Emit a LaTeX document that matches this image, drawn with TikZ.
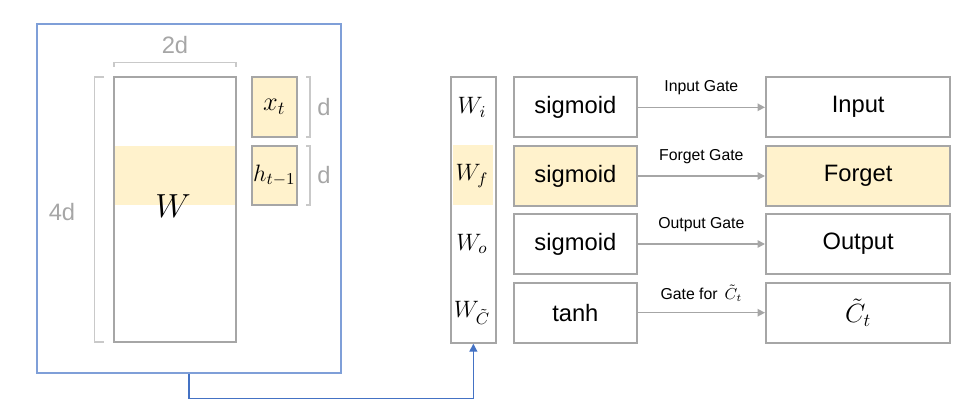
\documentclass[tikz,border=0pt]{standalone}
\usepackage{fix-cm}
\usepackage[no-math]{fontspec}
\setmainfont{Liberation Sans}
\usepackage{tikz}
\usetikzlibrary{arrows.meta, calc}

\definecolor{boxgray}{HTML}{A6A6A6}
\definecolor{bracegray}{HTML}{C9C9C9}
\definecolor{highlight}{HTML}{FFF2CC}
\definecolor{frameblue}{HTML}{7F9FD8}
\definecolor{linkblue}{HTML}{4472C4}

\tikzset{
    cell/.style = {draw = boxgray, line width = 0.04cm, inner sep = 0pt},
    rowbox/.style = {cell, minimum height = 1.200 cm, font = \fontsize{13.5}{16}\selectfont},
    sigbox/.style = {rowbox, minimum width = 2.454 cm},
    resbox/.style = {rowbox, minimum width = 3.686 cm},
    brace/.style = {draw = bracegray, line width = 0.025cm},
    sizelabel/.style = {text = boxgray, inner sep = 0pt, font = \fontsize{13.5}{16}\selectfont},
    mathlabel/.style = {inner sep = 0pt, font = \fontsize{13.5}{16}\selectfont},
    flow/.style = {draw = boxgray, line width = 0.03cm, -{Triangle[width = 0.150cm, length = 0.150cm]}},
    gatelabel/.style = {midway, yshift = +0.390 cm, inner sep = 0pt, font = \fontsize{9}{11}\selectfont},
    link/.style = {draw = linkblue, line width = 0.025cm, -{Triangle[width = 0.160cm, length = 0.160cm]}}
}

\begin{document}
\begin{tikzpicture}
    \useasboundingbox (+0.000, +0.000) rectangle (+19.540, +8.340);

    % === Left part: the stacked weight matrix ===
    % Outer frame
    \node[draw = frameblue, line width = 0.03cm, minimum width = 6.080 cm,
    minimum height = 6.980 cm] (frame) at (+3.780, +4.370) {};

    % W with its highlighted band
    \fill[highlight] (+2.300, +5.420) rectangle (+4.700, +4.240);
    \node[cell, minimum width = 2.440 cm, minimum height = 5.300 cm] (wbig) at (+3.500, +4.150) {};
    \node[inner sep = 0pt, font = \fontsize{19}{22}\selectfont] (wname) at (+3.460, +4.220) {$W$};

    % Inputs x_t and h_{t-1}
    \node[cell, fill = highlight, minimum width = 0.906 cm, minimum height = 1.200 cm,
    font = \fontsize{15}{18}\selectfont] (xin) at (+5.487, +6.200) {$x_t$};
    \node[cell, fill = highlight, mathlabel, minimum width = 0.906 cm,
    minimum height = 1.180 cm] (hin) at (+5.487, +4.830) {$h_{t-1}$};

    % Size brackets
    \draw[brace] (+2.280, +7.000) -- (+2.280, +7.086) -- (+4.720, +7.086) -- (+4.720, +7.000);
    \node[sizelabel] (wdim) at (+3.500, +7.440) {2d};
    \draw[brace] (+2.080, +6.800) -- (+1.886, +6.800) -- (+1.886, +1.500) -- (+2.080, +1.500);
    \node[sizelabel] (hdim) at (+1.240, +4.100) {4d};
    \draw[brace] (+6.120, +6.800) -- (+6.200, +6.800) -- (+6.200, +5.600) -- (+6.120, +5.600);
    \node[sizelabel] (xdim) at (+6.480, +6.200) {d};
    \draw[brace] (+6.120, +5.420) -- (+6.200, +5.420) -- (+6.200, +4.240) -- (+6.120, +4.240);
    \node[sizelabel] (hdimb) at (+6.480, +4.840) {d};

    % === Right part: the four gates ===
    % Split weight column
    \fill[highlight] (+9.060, +5.440) rectangle (+9.860, +4.240);
    \node[cell, minimum width = 0.906 cm, minimum height = 5.320 cm] (wcol) at (+9.467, +4.146) {};
    \node[mathlabel] (wi) at (+9.440, +6.194) {$W_i$};
    \node[mathlabel] (wf) at (+9.440, +4.820) {$W_f$};
    \node[mathlabel] (wo) at (+9.440, +3.460) {$W_o$};
    \node[mathlabel] (wc) at (+9.440, +2.086) {$W_{\tilde{C}}$};

    % Activations
    \node[sigbox] (sig1) at (+11.507, +6.194) {sigmoid};
    \node[sigbox, fill = highlight] (sig2) at (+11.507, +4.820) {sigmoid};
    \node[sigbox] (sig3) at (+11.507, +3.460) {sigmoid};
    \node[sigbox] (sig4) at (+11.507, +2.086) {tanh};

    % Results
    \node[resbox] (res1) at (+17.163, +6.194) {Input};
    \node[resbox, fill = highlight] (res2) at (+17.163, +4.820) {Forget};
    \node[resbox] (res3) at (+17.163, +3.460) {Output};
    \node[resbox, font = \fontsize{15}{18}\selectfont] (res4) at (+17.163, +2.086) {$\tilde{C}_t$};

    % Gate arrows
    \draw[flow] (sig1.east) -- node[gatelabel] {Input Gate} (res1.west);
    \draw[flow] (sig2.east) -- node[gatelabel] {Forget Gate} (res2.west);
    \draw[flow] (sig3.east) -- node[gatelabel] {Output Gate} (res3.west);
    \draw[flow] (sig4.east) -- node[gatelabel] {Gate for \,$\tilde{C}_t$} (res4.west);

    % Link from the matrix to the split column
    \draw[link] (frame.south) -- ++(+0.000, -0.490) -| (wcol.south);
\end{tikzpicture}
\end{document}
